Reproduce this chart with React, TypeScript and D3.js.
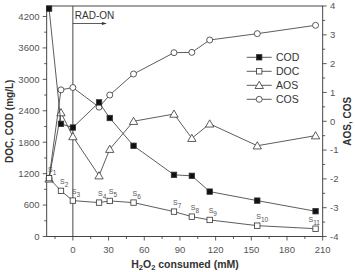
import * as d3 from "d3";

// H2O2 consumed (mM) for each sample S1..S11
const h2o2 = [-20, -10, 0, 22, 31, 51, 85, 100, 115, 155, 204];
const cod = [4350, 2150, 2080, 2560, 2262, 1732, 1177, 1158, 857, 685, 482];
const doc = [1114, 871, 685, 647, 679, 647, 475, 379, 316, 207, 149];
const aos = [-2.0, 0.3, -0.53, -1.89, -0.97, 0.0, 0.25, -0.59, -0.09, -0.85, -0.5];
const cos = [-1.98, 1.09, 1.17, 0.49, 0.91, 1.64, 2.38, 2.39, 2.82, 3.04, 3.33];
const sampleLabels = ["1", "2", "3", "4", "5", "6", "7", "8", "9", "10", "11"];

const xTicks = [0, 30, 60, 90, 120, 150, 180, 210];
const leftTicks = [0, 600, 1200, 1800, 2400, 3000, 3600, 4200];
const rightTicks = [-4, -3, -2, -1, 0, 1, 2, 3, 4];
const legendNames = ["COD", "DOC", "AOS", "COS"];

const W = 355;
const H = 272;
const m = { left: 46.7, right: 322.7, top: 6, bottom: 236.5 };

const x = d3.scaleLinear().domain([-22, 210]).range([m.left, m.right]);
const yL = d3.scaleLinear().domain([0, 4400]).range([m.bottom, m.top]);
const yR = d3.scaleLinear().domain([-4, 4]).range([m.bottom, m.top]);

const ink = "#333";
const tickColor = "#555";
const font = "'Liberation Sans', Arial, sans-serif";

type Kind = "fsq" | "osq" | "tri" | "circ";

const Marker = ({ kind, cx, cy }: { kind: Kind; cx: number; cy: number }) => {
  if (kind === "fsq" || kind === "osq") {
    return (
      <rect x={cx - 2.7} y={cy - 2.7} width={5.4} height={5.4}
        fill={kind === "fsq" ? "#111" : "#fff"} stroke={ink} strokeWidth={0.8} />
    );
  }
  if (kind === "tri") {
    const p = d3.symbol(d3.symbolTriangle, 30)();
    return <path d={p ?? ""} transform={`translate(${cx},${cy + 0.8})`} fill="#fff" stroke={ink} strokeWidth={0.8} />;
  }
  return <circle cx={cx} cy={cy} r={3} fill="#fff" stroke={ink} strokeWidth={0.8} />;
};

const Series = ({ vals, y, kind }: { vals: number[]; y: d3.ScaleLinear<number, number>; kind: Kind }) => {
  const line = d3.line<number>().x((_, i) => x(h2o2[i])).y((d) => y(d));
  return (
    <g>
      <path d={line(vals) ?? ""} fill="none" stroke={ink} strokeWidth={0.8} />
      {vals.map((v, i) => (
        <Marker key={i} kind={kind} cx={x(h2o2[i])} cy={y(v)} />
      ))}
    </g>
  );
};

export default function App() {
  const xMinor = d3.range(-15, 211, 15);
  const lMinor = d3.range(0, 4401, 300);
  const rMinor = d3.range(-4, 4.01, 0.5);
  const kinds: Kind[] = ["fsq", "osq", "tri", "circ"];

  return (
    <svg width={W} height={H} style={{ position: "absolute", left: 0, top: 0 }} fontFamily={font}>
      <rect width={W} height={H} fill="#fff" />

      {/* frame */}
      <rect x={m.left} y={m.top} width={m.right - m.left} height={m.bottom - m.top}
        fill="none" stroke={ink} strokeWidth={0.9} />

      {/* x axis */}
      {xMinor.map((t) => (
        <line key={t} x1={x(t)} x2={x(t)} y1={m.bottom} y2={m.bottom + (t % 30 === 0 ? 4 : 2.5)} stroke={ink} strokeWidth={0.8} />
      ))}
      {xTicks.map((t) => (
        <text key={t} x={x(t)} y={252.5} fontSize={9.5} fill={tickColor} textAnchor="middle">{t}</text>
      ))}
      <text x={185} y={268} fontSize={10.5} fontWeight="bold" fill={ink} textAnchor="middle">
        H<tspan fontSize={7.5} dy={2}>2</tspan><tspan dy={-2}>O</tspan><tspan fontSize={7.5} dy={2}>2</tspan><tspan dy={-2}> consumed (mM)</tspan>
      </text>

      {/* left axis */}
      {lMinor.map((t) => (
        <line key={t} x1={m.left} x2={m.left - (t % 600 === 0 ? 4 : 2.5)} y1={yL(t)} y2={yL(t)} stroke={ink} strokeWidth={0.8} />
      ))}
      {leftTicks.map((t) => (
        <text key={t} x={39.5} y={yL(t) + 3.4} fontSize={9.5} fill={tickColor} textAnchor="end">{t}</text>
      ))}
      <text transform={`translate(12.5,${(m.top + m.bottom) / 2}) rotate(-90)`} fontSize={10} fontWeight="bold" fill={ink} textAnchor="middle">
        DOC, COD (mg/L)
      </text>

      {/* right axis */}
      {rMinor.map((t) => (
        <line key={t} x1={m.right} x2={m.right + (Number.isInteger(t) ? 4 : 2.5)} y1={yR(t)} y2={yR(t)} stroke={ink} strokeWidth={0.8} />
      ))}
      {rightTicks.map((t) => (
        <text key={t} x={330} y={yR(t) + 3.4} fontSize={9.5} fill={tickColor}>{t}</text>
      ))}
      <text transform={`translate(350.5,${(m.top + m.bottom) / 2}) rotate(-90)`} fontSize={10} fontWeight="bold" fill={ink} textAnchor="middle">
        AOS, COS
      </text>

      {/* RAD-ON marker */}
      <line x1={x(0)} x2={x(0)} y1={m.top} y2={m.bottom} stroke={ink} strokeWidth={0.9} />
      <text x={x(0) + 2} y={18.5} fontSize={10} fill={ink}>RAD-ON</text>
      <line x1={x(0)} x2={x(0) + 31} y1={23.5} y2={23.5} stroke={ink} strokeWidth={0.8} />
      <path d={`M${x(0) + 34},23.5 l-5,-1.6 v3.2 z`} fill={ink} />

      <Series vals={cos} y={yR} kind="circ" />
      <Series vals={aos} y={yR} kind="tri" />
      <Series vals={doc} y={yL} kind="osq" />
      <Series vals={cod} y={yL} kind="fsq" />

      {/* sample labels */}
      {sampleLabels.map((s, i) => {
        const px = x(h2o2[i]);
        const py = yL(doc[i]);
        const lx = i === 10 ? px - 7 : px - 1;
        return (
          <text key={s} x={lx} y={py - 6.5} fontSize={7} fill={tickColor}>
            S<tspan fontSize={6.5} dy={3}>{s}</tspan>
          </text>
        );
      })}

      {/* legend */}
      {legendNames.map((n, i) => {
        const ly = 57.3 + i * 14;
        return (
          <g key={n}>
            <line x1={246.7} x2={271.7} y1={ly} y2={ly} stroke={ink} strokeWidth={0.8} />
            <Marker kind={kinds[i]} cx={259.2} cy={ly} />
            <text x={276} y={ly + 3.8} fontSize={10.5} fill={ink}>{n}</text>
          </g>
        );
      })}
    </svg>
  );
}
